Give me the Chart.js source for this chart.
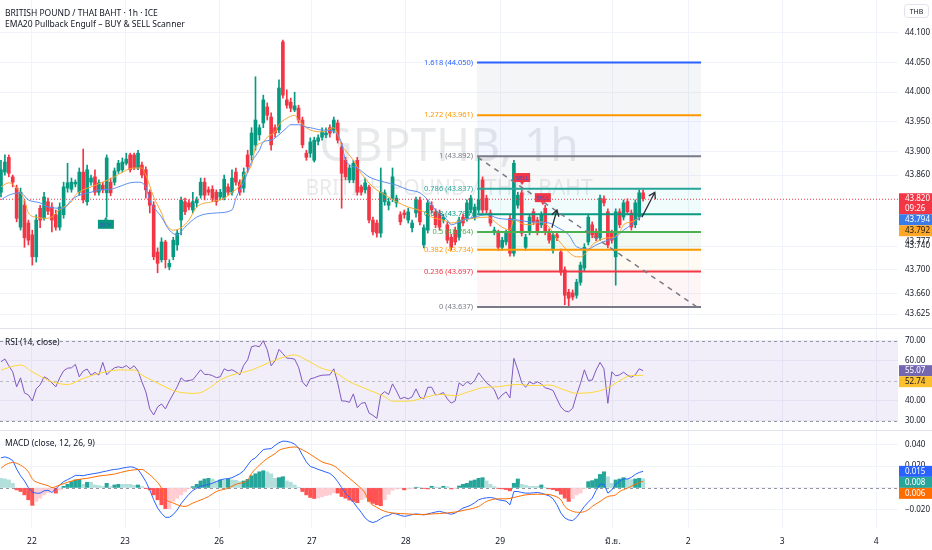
<!DOCTYPE html>
<html>
<head>
<meta charset="utf-8">
<title>GBPTHB 1h</title>
<script src="https://cdn.jsdelivr.net/npm/chart.js@4.4.1/dist/chart.umd.min.js"></script>
<style>
  html,body{margin:0;padding:0;background:#fff;}
  #wrap{position:relative;width:932px;height:550px;overflow:hidden;font-family:"Noto Sans",sans-serif;color:#131722;}
  .pane{position:absolute;left:0;width:932px;}
  .sep{position:absolute;left:0;width:932px;height:1px;background:#e0e3eb;}
  .legend{position:absolute;left:5px;font-size:8.5px;line-height:11px;white-space:nowrap;}
</style>
</head>
<body>
<div id="wrap">
  <div class="pane" style="top:0;height:328px"><canvas id="priceChart"></canvas></div>
  <div class="pane" style="top:328px;height:102px"><canvas id="rsiChart"></canvas></div>
  <div class="pane" style="top:430px;height:120px"><canvas id="macdChart"></canvas></div>
  <div class="sep" style="top:328px"></div>
  <div class="sep" style="top:430px"></div>
  <div class="legend" style="top:7px">BRITISH POUND / THAI BAHT · 1h · ICE</div>
  <div class="legend" style="top:18px">EMA20 Pullback Engulf – BUY &amp; SELL Scanner</div>
  <div class="legend" style="top:336px">RSI (14, close)</div>
  <div class="legend" style="top:437px">MACD (close, 12, 26, 9)</div>
</div>
<script>
/* ── data: hourly candles, index 0 = first bar on screen ── */
var open=[43.831,43.865,43.890,43.857,43.838,43.772,43.809,43.779,43.759,43.722,
43.804,43.787,43.815,43.806,43.793,43.772,43.793,43.838,43.836,43.845,
43.831,43.865,43.815,43.848,43.857,43.831,43.843,43.830,43.848,43.848,
43.867,43.869,43.880,43.894,43.894,43.872,43.877,43.869,43.831,43.809,
43.730,43.717,43.747,43.705,43.722,43.742,43.784,43.815,43.813,43.801,
43.813,43.826,43.848,43.835,43.836,43.831,43.823,43.821,43.840,43.831,
43.865,43.848,43.838,43.894,43.894,43.911,43.928,43.948,43.975,43.958,
43.940,43.936,44.085,43.987,43.983,43.970,43.973,43.953,43.897,43.897,
43.885,43.917,43.924,43.928,43.940,43.936,43.948,43.907,43.885,43.852,
43.852,43.885,43.840,43.835,43.840,43.784,43.779,43.762,43.815,43.809,
43.821,43.813,43.793,43.796,43.784,43.771,43.796,43.818,43.742,43.767,
43.809,43.798,43.796,43.784,43.776,43.755,43.767,43.755,43.789,43.787,
43.801,43.789,43.801,43.852,43.821,43.796,43.764,43.762,43.738,43.747,
43.787,43.728,43.809,43.830,43.738,43.764,43.798,43.784,43.776,43.804,
43.764,43.733,43.759,43.730,43.700,43.662,43.661,43.657,43.679,43.703,
43.747,43.776,43.764,43.754,43.820,43.798,43.762,43.722,43.798,43.789,
43.815,43.796,43.776,43.789,43.830];
var high=[43.885,43.894,43.894,43.860,43.843,43.838,43.818,43.784,43.767,43.793,
43.809,43.831,43.821,43.813,43.801,43.813,43.848,43.880,43.855,43.852,
43.872,43.904,43.877,43.860,43.869,43.852,43.848,43.894,43.855,43.872,
43.885,43.889,43.897,43.897,43.897,43.902,43.882,43.874,43.835,43.815,
43.737,43.754,43.750,43.717,43.755,43.767,43.823,43.821,43.818,43.831,
43.823,43.855,43.855,43.840,43.842,43.835,43.836,43.860,43.845,43.869,
43.872,43.852,43.872,43.902,43.940,44.026,43.945,43.995,43.982,43.965,
43.945,44.021,44.088,44.004,43.990,44.000,43.978,43.958,43.902,43.923,
43.924,43.928,43.940,43.940,43.945,43.958,43.953,43.914,43.890,43.877,
43.885,43.890,43.843,43.855,43.843,43.789,43.784,43.872,43.835,43.821,
43.872,43.826,43.798,43.801,43.804,43.784,43.823,43.823,43.776,43.818,
43.815,43.803,43.801,43.794,43.781,43.760,43.772,43.789,43.794,43.818,
43.826,43.811,43.890,43.857,43.826,43.801,43.772,43.767,43.755,43.767,
43.793,43.885,43.831,43.835,43.760,43.794,43.803,43.789,43.798,43.809,
43.769,43.764,43.764,43.735,43.705,43.667,43.666,43.684,43.713,43.744,
43.794,43.781,43.769,43.826,43.825,43.803,43.767,43.803,43.803,43.818,
43.820,43.801,43.818,43.835,43.835];
var low=[43.823,43.860,43.857,43.840,43.781,43.767,43.738,43.742,43.708,43.713,
43.771,43.784,43.793,43.764,43.767,43.767,43.787,43.831,43.831,43.840,
43.826,43.813,43.809,43.843,43.826,43.826,43.830,43.789,43.825,43.843,
43.863,43.865,43.877,43.865,43.869,43.869,43.855,43.821,43.796,43.717,
43.695,43.713,43.703,43.700,43.717,43.733,43.759,43.793,43.801,43.796,
43.806,43.821,43.818,43.826,43.815,43.809,43.818,43.818,43.826,43.826,
43.843,43.826,43.831,43.865,43.885,43.902,43.919,43.940,43.953,43.902,
43.924,43.931,43.990,43.973,43.967,43.967,43.948,43.906,43.885,43.890,
43.882,43.911,43.919,43.923,43.924,43.931,43.914,43.804,43.852,43.847,
43.847,43.826,43.826,43.830,43.779,43.759,43.755,43.755,43.809,43.801,
43.815,43.806,43.776,43.787,43.779,43.764,43.789,43.776,43.737,43.762,
43.796,43.771,43.767,43.779,43.745,43.733,43.742,43.750,43.774,43.782,
43.796,43.784,43.796,43.796,43.796,43.774,43.759,43.733,43.733,43.742,
43.723,43.723,43.804,43.757,43.733,43.759,43.776,43.759,43.771,43.759,
43.745,43.728,43.749,43.691,43.641,43.636,43.649,43.652,43.674,43.698,
43.742,43.754,43.749,43.749,43.808,43.737,43.745,43.674,43.771,43.784,
43.793,43.767,43.771,43.784,43.816];
var close=[43.869,43.882,43.863,43.848,43.787,43.831,43.754,43.750,43.722,43.784,
43.784,43.823,43.799,43.784,43.772,43.806,43.840,43.847,43.848,43.848,
43.865,43.818,43.869,43.855,43.831,43.847,43.835,43.889,43.830,43.867,
43.880,43.882,43.887,43.869,43.872,43.897,43.860,43.835,43.809,43.722,
43.711,43.747,43.717,43.711,43.750,43.762,43.818,43.798,43.806,43.815,
43.818,43.848,43.826,43.831,43.821,43.815,43.831,43.853,43.831,43.855,
43.848,43.831,43.865,43.874,43.931,43.953,43.940,43.987,43.961,43.911,
43.931,44.007,43.995,43.978,43.973,43.977,43.953,43.911,43.890,43.916,
43.919,43.923,43.933,43.931,43.931,43.953,43.919,43.863,43.857,43.872,
43.880,43.831,43.831,43.847,43.784,43.764,43.762,43.831,43.830,43.815,
43.857,43.821,43.781,43.793,43.798,43.779,43.818,43.781,43.771,43.813,
43.801,43.776,43.772,43.789,43.750,43.738,43.747,43.784,43.779,43.813,
43.821,43.806,43.818,43.801,43.801,43.779,43.767,43.738,43.750,43.762,
43.728,43.880,43.826,43.762,43.755,43.789,43.781,43.764,43.793,43.764,
43.750,43.759,43.754,43.696,43.657,43.652,43.654,43.679,43.708,43.738,
43.789,43.759,43.754,43.821,43.813,43.742,43.750,43.798,43.776,43.813,
43.798,43.772,43.813,43.830,43.820];
var countdown='09:26';
var extraPriceLabel=43.777;

// EMA lines, read at the listed bar indices
var emaSlowIdx=[0,2,5,7,10,12,16,18,20,23,25,28,30,33,35,37,38,41,43,45,47,50,55,59,60,62,64,66,67,69,71,73,74,76,78,79,82,85,87,88,91,94,98,101,104,107,109,111,114,115,118,121,124,127,132,135,140,142,145,147,150,152,155,157,159,161,162,164];
var emaSlow=[43.818,43.826,43.830,43.818,43.813,43.806,43.804,43.818,43.826,43.831,43.835,43.836,43.840,43.847,43.848,43.840,43.818,43.789,43.767,43.759,43.772,43.789,43.796,43.801,43.821,43.848,43.882,43.902,43.916,43.919,43.928,43.940,43.945,43.945,43.941,43.940,43.936,43.934,43.914,43.885,43.872,43.857,43.848,43.843,43.835,43.830,43.818,43.801,43.784,43.776,43.784,43.789,43.793,43.787,43.784,43.781,43.779,43.772,43.759,43.739,43.735,43.742,43.750,43.755,43.767,43.776,43.782,43.794];
var emaFastIdx=[0,2,4,6,7,9,11,13,14,16,18,19,21,23,26,29,31,34,36,37,39,41,42,44,46,48,50,54,57,59,61,62,64,65,67,68,70,71,73,75,76,78,79,82,85,87,90,92,95,99,101,104,108,110,113,115,118,121,124,128,130,131,133,135,138,140,141,143,145,147,148,150,151,153,155,156,158,159,161,162,164];
var emaFast=[43.840,43.847,43.838,43.818,43.796,43.789,43.787,43.789,43.796,43.806,43.815,43.826,43.835,43.840,43.848,43.857,43.865,43.872,43.872,43.860,43.823,43.796,43.779,43.767,43.771,43.784,43.806,43.815,43.821,43.831,43.843,43.860,43.877,43.906,43.916,43.924,43.933,43.945,43.956,43.961,43.953,43.940,43.936,43.933,43.940,43.911,43.885,43.863,43.840,43.823,43.815,43.806,43.798,43.789,43.784,43.779,43.784,43.787,43.789,43.772,43.767,43.785,43.778,43.776,43.781,43.772,43.762,43.745,43.730,43.722,43.722,43.733,43.742,43.750,43.754,43.754,43.764,43.776,43.781,43.784,43.792];

// RSI (one value per bar) and its moving average
var rsi=[59.5,60.9,57.5,54.5,47,51.5,44,43,40,46,
48,52,51,49,47,51.5,55,56.3,56.5,58.2,
52,54.9,55.9,52.8,54.2,52.9,59.2,53,55,56.5,
57,56.5,57.6,56,57.5,55,49.5,44.5,36,33,
37,38.5,36,40,43.5,47,51.5,49.8,50.2,50.5,
53,55.5,53.2,53.2,52.6,51.6,52,56,55,55.5,
54.5,53,57.8,60.5,67,67.5,67,70,65.5,57.5,
60,65.7,63.5,61.3,61.2,60.8,56.8,49.5,47.2,51,
51.5,52.3,52.8,52.9,53,56,49,40,39.9,39.3,
43.5,36.6,38.8,39.2,34,32.8,31.3,43,44.6,43.2,
48.5,45,41,41.8,41,42,46,41.8,41,46.8,
46.8,43,43.3,44.2,41,38.9,40,49,47.5,49.6,
48.3,50.3,54,51.5,49,47.5,45.6,40.8,43,44.5,
41.5,61.2,55.5,49,46.8,49.5,48.5,49.5,48.5,46.5,
46,45.2,41,37,35,34.6,36.3,43,48.7,55.5,
50.2,50.4,55.4,59.2,56,38.8,54.5,52.5,53,54.3,
52.8,51.8,53,56,55.07];
var rsiMaIdx=[0,5,8,13,17,21,25,30,34,36,41,45,50,53,56,59,64,68,72,75,78,82,85,89,93,98,100,104,109,112,116,119,123,127,132,136,140,144,147,152,155,159,161,164];
var rsiMa=[55.4,57.9,54.5,49.6,48.2,51.2,53.7,55.4,55.4,52.9,47.9,44.6,43.8,46.2,50.4,52.9,55.4,58.7,61.7,62.9,60.4,56.2,54.5,49.6,46.2,42.1,39.9,39.9,42.1,43.3,42.6,44.3,46.6,47.1,48.2,47.6,47.9,45.4,43.8,44.6,46.6,51.2,52.6,52.74];

// MACD line and histogram (one value per bar), signal read at listed bars
var macd=[0.0276,0.0285,0.0273,0.0252,0.0173,0.0112,0.0064,0.0003,-0.0039,-0.0048,
-0.0048,-0.0027,-0.0021,-0.0042,-0.0009,0.0027,0.0058,0.0076,0.0094,0.0115,
0.0115,0.0112,0.0121,0.0127,0.0133,0.0139,0.0148,0.0155,0.0164,0.017,
0.0173,0.0182,0.0188,0.0194,0.0188,0.017,0.0118,0.0058,-0.0018,-0.0109,
-0.0185,-0.0233,-0.027,-0.027,-0.0245,-0.0203,-0.0145,-0.01,-0.0058,-0.0024,
-0.0003,0.0015,0.0024,0.0033,0.0042,0.0058,0.0073,0.0082,0.0085,0.0094,
0.0112,0.013,0.0158,0.0209,0.0255,0.0276,0.0315,0.0352,0.0358,0.0361,
0.0391,0.0415,0.043,0.0427,0.0418,0.0403,0.0367,0.03,0.0239,0.0197,
0.0185,0.017,0.0158,0.0145,0.0133,0.0103,0.0058,0.0003,-0.0048,-0.0088,
-0.013,-0.0179,-0.0224,-0.0276,-0.0306,-0.0318,-0.0306,-0.0282,-0.0261,-0.0252,
-0.0233,-0.0239,-0.0252,-0.0261,-0.0255,-0.0245,-0.0239,-0.0242,-0.0248,-0.0239,
-0.023,-0.0221,-0.0215,-0.0224,-0.0233,-0.0242,-0.023,-0.0209,-0.0185,-0.0173,
-0.0158,-0.0136,-0.0109,-0.0097,-0.0091,-0.0088,-0.0094,-0.0109,-0.0115,-0.0121,
-0.0155,-0.0033,-0.0033,-0.0042,-0.0048,-0.0048,-0.0045,-0.0042,-0.0048,-0.0061,
-0.0073,-0.01,-0.0155,-0.023,-0.0276,-0.0294,-0.03,-0.027,-0.0221,-0.017,
-0.013,-0.0094,-0.0024,0.0033,0.0033,-0.0048,-0.0018,0.0033,0.0061,0.0082,
0.0082,0.0097,0.0124,0.0142,0.0152];
var hist=[0.0088,0.0082,0.0073,0.0042,-0.0018,-0.0033,-0.0064,-0.0109,-0.016,-0.0124,
-0.0094,-0.0064,-0.0042,-0.0024,-0.0048,-0.0018,0.0015,0.0033,0.0058,0.0073,
0.0079,0.0033,0.0052,0.0052,0.0027,0.0021,0.0012,0.0042,0.0012,0.0027,
0.0033,0.0033,0.0033,0.0033,0.0024,0.0027,0.0012,-0.0003,-0.0018,-0.0064,
-0.0109,-0.0155,-0.019,-0.019,-0.0124,-0.0094,-0.0064,-0.0033,-0.0003,0.0012,
0.0033,0.0064,0.0082,0.0088,0.0082,0.0064,0.0073,0.007,0.0082,0.0073,
0.007,0.0058,0.0064,0.0079,0.0112,0.013,0.0148,0.0158,0.0148,0.013,
0.0088,0.0094,0.0103,0.0064,0.0052,0.0027,0.0003,-0.0033,-0.0064,-0.0088,
-0.0097,-0.0094,-0.0082,-0.007,-0.0064,-0.0045,-0.0048,-0.0079,-0.0094,-0.0112,
-0.0124,-0.0136,-0.0109,-0.0094,-0.0124,-0.0142,-0.0155,-0.0164,-0.0109,-0.0058,
-0.0021,-0.0009,-0.0003,-0.0018,-0.0009,-0.0003,0.0006,0.0003,-0.0003,-0.0009,
0.0015,0.0009,0.0003,0.0015,0.0012,-0.0009,-0.0003,0.0018,0.0033,0.0042,
0.0064,0.0073,0.0088,0.0094,0.0064,0.0033,0.0012,-0.0003,-0.0009,-0.0015,
-0.0027,0.0042,0.0082,0.0033,0.0024,0.0015,0.0015,0.0015,0.0027,0.0003,
-0.0009,-0.0015,-0.0027,-0.0058,-0.0094,-0.0124,-0.0097,-0.0064,-0.0048,-0.0009,
0.0058,0.0067,0.0082,0.0124,0.0148,0.0103,0.0042,0.0073,0.0082,0.0094,
0.0082,0.0076,0.0082,0.0088,0.0083];
var signalIdx=[0,1,3,5,7,8,10,12,13,15,19,22,25,29,32,36,37,39,41,42,44,47,49,53,55,58,60,63,64,66,68,70,71,73,75,76,78,80,82,85,87,89,91,93,94,96,98,100,104,107,110,114,116,119,122,124,127,129,132,134,137,139,141,143,144,146,148,150,151,153,155,157,158,160,162,164];
var signal=[0.0179,0.0209,0.0233,0.0209,0.0148,0.0082,0.0042,0.0021,0.0003,0.0027,0.0073,0.0088,0.0109,0.0127,0.0155,0.017,0.0148,0.0088,-0.0003,-0.0094,-0.0139,-0.017,-0.0139,-0.0079,-0.0033,-0.0003,0.0033,0.0073,0.0133,0.0209,0.027,0.0315,0.0345,0.0367,0.0376,0.0367,0.033,0.0285,0.0239,0.0203,0.0148,0.0088,0.0027,-0.0048,-0.0124,-0.0179,-0.0215,-0.023,-0.0239,-0.0245,-0.0239,-0.023,-0.0221,-0.02,-0.017,-0.0124,-0.01,-0.01,-0.0079,-0.0064,-0.0058,-0.0058,-0.007,-0.0109,-0.017,-0.0215,-0.0224,-0.02,-0.017,-0.0124,-0.0079,-0.0064,-0.0033,-0.0003,0.0033,0.0062];

// axis ticks
var dayTickIdx=[7.9,31.7,55.7,79.4,103.4,127.5,156.3,175.5,199.5,223.5];
var dayLabels=['22','23','26','27','28','29','มิ.ย.','2','3','4'];
var priceTicks=[44.1,44.05,44.0,43.95,43.9,43.86,43.74,43.7,43.66,43.625];
var rsiTicks=[70,60,40,30];
var macdTicks=[0.04,0.02,0,-0.02];

// drawings: fib retracement, trend line, arrows, scanner labels
var fibRatio=['1.618','1.272','1','0.786','0.618','0.5','0.382','0.236','0'];
var fibPrice=[44.050,43.961,43.892,43.837,43.794,43.764,43.734,43.697,43.637];
var fibSpan=[121.6,178.8];
var trendIdx=[121.8,177.8], trendPrice=[43.890,43.637];
var arrowFromIdx=[140.7,163.7], arrowFromPrice=[43.771,43.789];
var arrowToIdx=[142.0,167.0], arrowToPrice=[43.801,43.831];
var sellIdx=[133.1,138.4], sellPrice=[43.855,43.821];
var buyIdx=[26.8], buyPrice=[43.776];
var watermark=['GBPTHB, 1h','BRITISH POUND / THAI BAHT'];

/* ── styles ── */
var X_MIN=-0.25, X_MAX=229.1, AXIS_W=34;
var FONT='"Noto Sans", sans-serif';
var UP='#089981', DOWN='#f23645', GRID='#f0f3fa', TXT='#131722';
var fibColor=['#2962ff','#ff9800','#787b86','#26a69a','#089981','#4caf50','#ff9800','#f23645','#787b86'];
var fibFill=['rgba(120,123,134,0.08)','rgba(41,98,255,0.05)','rgba(120,123,134,0.05)','rgba(0,188,212,0.06)','rgba(8,153,129,0.02)','rgba(76,175,80,0.07)','rgba(255,152,0,0.05)','rgba(242,54,69,0.05)'];

function pts(idx,vals){return vals.map(function(v,k){return {x:idx[k],y:v};});}
function seq(vals){return vals.map(function(v,i){return {x:i,y:v};});}
function last(a){return a[a.length-1];}

function xAxis(showLabels){
  return {type:'linear',min:X_MIN,max:X_MAX,offset:false,
    grid:{color:GRID,offset:false,drawTicks:false},
    border:{display:false},
    afterBuildTicks:function(s){s.ticks=dayTickIdx.map(function(v){return {value:v};});},
    ticks:{display:showLabels,autoSkip:false,maxRotation:0,padding:8,color:TXT,font:{size:8.5,family:FONT},
      callback:function(v,i){return dayLabels[i];}},
    afterFit:function(s){s.height=showLabels?22:0;s.paddingLeft=0;s.paddingRight=0;}
  };
}
function yAxis(min,max,ticks,fmt){
  return {position:'right',min:min,max:max,
    grid:{color:GRID,drawTicks:false},
    border:{display:false},
    afterBuildTicks:function(s){s.ticks=ticks.map(function(v){return {value:v};});},
    ticks:{autoSkip:false,padding:7,color:TXT,font:{size:8,family:FONT},callback:function(v){return fmt(v);}},
    afterFit:function(s){s.width=AXIS_W;s.paddingTop=0;s.paddingBottom=0;}
  };
}
function baseOptions(scales){
  return {responsive:true,maintainAspectRatio:false,animation:false,events:[],
    layout:{padding:0},
    plugins:{legend:{display:false},tooltip:{enabled:false}},
    scales:scales};
}
function lineSet(data,color,smooth){
  return {type:'line',data:data,borderColor:color,borderWidth:1,pointRadius:0,
    cubicInterpolationMode:smooth?'monotone':'default',tension:0,order:0};
}

// value tags on the right axis, stacked so they never overlap
function drawTags(chart,tags){
  var ctx=chart.ctx, ys=chart.scales.y, x0=chart.chartArea.right+1, w=chart.width-x0;
  var prev=-1e9;
  ctx.save();
  ctx.font='8px '+FONT; ctx.textAlign='left'; ctx.textBaseline='middle';
  tags.forEach(function(t){
    var y=ys.getPixelForValue(t.value);
    var h=t.lines.length*10+1;
    var top=Math.max(y-5.5,prev);
    if(t.bg){ctx.fillStyle=t.bg;ctx.fillRect(x0,top,w,h);}
    ctx.fillStyle=t.fg;
    t.lines.forEach(function(s,k){ctx.fillText(s,x0+6,top+5.5+k*10);});
    prev=top+h;
  });
  ctx.restore();
}
function arrow(ctx,x1,y1,x2,y2){
  var ang=Math.atan2(y2-y1,x2-x1), L=7;
  ctx.beginPath();
  ctx.moveTo(x1,y1); ctx.lineTo(x2,y2);
  ctx.moveTo(x2-L*Math.cos(ang-0.55),y2-L*Math.sin(ang-0.55));
  ctx.lineTo(x2,y2);
  ctx.lineTo(x2-L*Math.cos(ang+0.55),y2-L*Math.sin(ang+0.55));
  ctx.stroke();
}
function signalBox(ctx,x,y,text,bg,pointDown){
  ctx.fillStyle=bg;
  ctx.fillRect(x-8,y-5,16,9);
  ctx.beginPath();
  if(pointDown){ctx.moveTo(x-2,y+4);ctx.lineTo(x+2,y+4);ctx.lineTo(x,y+7);}
  else{ctx.moveTo(x-2,y-5);ctx.lineTo(x+2,y-5);ctx.lineTo(x,y-8);}
  ctx.fill();
  ctx.fillStyle='#3d52c8'; ctx.font='6px '+FONT;
  ctx.textAlign='center'; ctx.textBaseline='middle';
  ctx.fillText(text,x,y);
}

/* ── price pane ── */
var priceDeco={
  id:'priceDeco',
  beforeDatasetsDraw:function(chart){
    var ctx=chart.ctx, a=chart.chartArea, xs=chart.scales.x, ys=chart.scales.y;
    ctx.save();
    ctx.fillStyle='rgba(120,123,134,0.17)';
    ctx.textAlign='center'; ctx.textBaseline='middle';
    ctx.font='46px '+FONT;
    ctx.fillText(watermark[0],(a.left+a.right)/2,148);
    ctx.font='21px '+FONT;
    ctx.fillText(watermark[1],(a.left+a.right)/2,189);
    var x0=xs.getPixelForValue(fibSpan[0]), x1=xs.getPixelForValue(fibSpan[1]);
    for(var k=0;k<fibPrice.length-1;k++){
      var yA=ys.getPixelForValue(fibPrice[k]), yB=ys.getPixelForValue(fibPrice[k+1]);
      ctx.fillStyle=fibFill[k];
      ctx.fillRect(x0,yA,x1-x0,yB-yA);
    }
    ctx.restore();
  },
  afterDatasetsDraw:function(chart){
    var ctx=chart.ctx, a=chart.chartArea, xs=chart.scales.x, ys=chart.scales.y;
    ctx.save();
    var x0=xs.getPixelForValue(fibSpan[0]), x1=xs.getPixelForValue(fibSpan[1]);
    ctx.font='7.5px '+FONT; ctx.textAlign='right'; ctx.textBaseline='middle';
    fibPrice.forEach(function(p,k){
      var y=ys.getPixelForValue(p);
      ctx.strokeStyle=fibColor[k]; ctx.lineWidth=2;
      ctx.beginPath(); ctx.moveTo(x0,y); ctx.lineTo(x1,y); ctx.stroke();
      ctx.fillStyle=fibColor[k];
      ctx.fillText(fibRatio[k]+' ('+p.toFixed(3)+')',x0-4,y);
    });
    // dashed trend line
    ctx.strokeStyle='#787b86'; ctx.lineWidth=1.5; ctx.setLineDash([5,5]);
    ctx.beginPath();
    ctx.moveTo(xs.getPixelForValue(trendIdx[0]),ys.getPixelForValue(trendPrice[0]));
    ctx.lineTo(xs.getPixelForValue(trendIdx[1]),ys.getPixelForValue(trendPrice[1]));
    ctx.stroke();
    ctx.setLineDash([]);
    // arrows
    ctx.strokeStyle='#2a2e39'; ctx.lineWidth=1.3;
    arrowFromIdx.forEach(function(v,k){
      arrow(ctx,xs.getPixelForValue(v),ys.getPixelForValue(arrowFromPrice[k]),
        xs.getPixelForValue(arrowToIdx[k]),ys.getPixelForValue(arrowToPrice[k]));
    });
    // scanner labels
    sellIdx.forEach(function(v,k){signalBox(ctx,xs.getPixelForValue(v),ys.getPixelForValue(sellPrice[k]),'SELL','#f23645',true);});
    buyIdx.forEach(function(v,k){signalBox(ctx,xs.getPixelForValue(v),ys.getPixelForValue(buyPrice[k]),'BUY','#089981',false);});
    // last price line
    var yp=ys.getPixelForValue(last(close));
    ctx.strokeStyle='#f23645'; ctx.lineWidth=1; ctx.setLineDash([1,2]);
    ctx.beginPath(); ctx.moveTo(a.left,yp+0.5); ctx.lineTo(a.right,yp+0.5); ctx.stroke();
    ctx.restore();
  },
  afterDraw:function(chart){
    drawTags(chart,[
      {value:last(close),lines:[last(close).toFixed(3),countdown],bg:last(close)>=last(open)?UP:DOWN,fg:'#fff'},
      {value:last(emaSlow),lines:[last(emaSlow).toFixed(3)],bg:'#3a7bea',fg:'#fff'},
      {value:last(emaFast),lines:[last(emaFast).toFixed(3)],bg:'#ffa726',fg:TXT},
      {value:extraPriceLabel,lines:[extraPriceLabel.toFixed(3)],bg:null,fg:TXT}
    ]);
    var ctx=chart.ctx;
    ctx.save();
    ctx.fillStyle='#fff'; ctx.strokeStyle='#e0e3eb'; ctx.lineWidth=1;
    ctx.beginPath(); ctx.roundRect(904.5,4.5,24,13,3); ctx.fill(); ctx.stroke();
    ctx.fillStyle=TXT; ctx.font='7px '+FONT; ctx.textAlign='center'; ctx.textBaseline='middle';
    ctx.fillText('THB',916.5,11.5);
    ctx.restore();
  }
};
var candleCol=close.map(function(c,i){return c>=open[i]?UP:DOWN;});
new Chart(document.getElementById('priceChart'),{
  type:'bar',
  data:{datasets:[
    lineSet(pts(emaSlowIdx,emaSlow),'#5b8def',true),
    lineSet(pts(emaFastIdx,emaFast),'#f7a530',true),
    {type:'bar',data:close.map(function(c,i){return {x:i,y:[low[i],high[i]]};}),backgroundColor:candleCol,
      barThickness:1,grouped:false,borderWidth:0,order:2},
    {type:'bar',data:close.map(function(c,i){return {x:i,y:[open[i],c]};}),backgroundColor:candleCol,
      barThickness:3,grouped:false,borderWidth:0,minBarLength:1,order:1}
  ]},
  options:baseOptions({
    x:xAxis(false),
    y:yAxis(43.6017,44.1557,priceTicks,function(v){return v.toFixed(3);})
  }),
  plugins:[priceDeco]
});

/* ── RSI pane ── */
var rsiDeco={
  id:'rsiDeco',
  beforeDatasetsDraw:function(chart){
    var ctx=chart.ctx, a=chart.chartArea, ys=chart.scales.y;
    var y70=ys.getPixelForValue(70), y50=ys.getPixelForValue(50), y30=ys.getPixelForValue(30);
    ctx.save();
    ctx.fillStyle='rgba(126,87,194,0.1)';
    ctx.fillRect(a.left,y70,a.right-a.left,y30-y70);
    ctx.strokeStyle='#9598a1'; ctx.lineWidth=1; ctx.setLineDash([3,3]);
    [y70,y30].forEach(function(y){ctx.beginPath();ctx.moveTo(a.left,Math.round(y)+0.5);ctx.lineTo(a.right,Math.round(y)+0.5);ctx.stroke();});
    ctx.strokeStyle='rgba(149,152,161,0.6)';
    ctx.beginPath();ctx.moveTo(a.left,Math.round(y50)+0.5);ctx.lineTo(a.right,Math.round(y50)+0.5);ctx.stroke();
    ctx.restore();
  },
  afterDraw:function(chart){
    drawTags(chart,[
      {value:last(rsi),lines:[last(rsi).toFixed(2)],bg:'#7467b0',fg:'#fff'},
      {value:last(rsiMa),lines:[last(rsiMa).toFixed(2)],bg:'#fbc02d',fg:TXT}
    ]);
  }
};
new Chart(document.getElementById('rsiChart'),{
  type:'line',
  data:{datasets:[
    lineSet(pts(rsiMaIdx,rsiMa),'#fdd835',true),
    lineSet(seq(rsi),'#7e57c2',false)
  ]},
  options:baseOptions({
    x:xAxis(false),
    y:yAxis(25.51,76.33,rsiTicks,function(v){return v.toFixed(2);})
  }),
  plugins:[rsiDeco]
});

/* ── MACD pane ── */
var histCol=hist.map(function(h,i){
  var p=i>0?hist[i-1]:h;
  if(h>=0)return h>p?'#26a69a':'#b2dfdb';
  return h<p?'#ff5252':'#ffcdd2';
});
var macdDeco={
  id:'macdDeco',
  beforeDatasetsDraw:function(chart){
    var ctx=chart.ctx, a=chart.chartArea, y0=Math.round(chart.scales.y.getPixelForValue(0))+0.5;
    ctx.save();
    ctx.strokeStyle='#9598a1'; ctx.lineWidth=1; ctx.setLineDash([3,3]);
    ctx.beginPath(); ctx.moveTo(a.left,y0); ctx.lineTo(a.right,y0); ctx.stroke();
    ctx.restore();
  },
  afterDraw:function(chart){
    drawTags(chart,[
      {value:last(macd),lines:[last(macd).toFixed(3)],bg:'#2962ff',fg:'#fff'},
      {value:last(hist),lines:[last(hist).toFixed(3)],bg:'#26a69a',fg:'#fff'},
      {value:last(signal),lines:[last(signal).toFixed(3)],bg:'#ff6d00',fg:'#fff'}
    ]);
  }
};
new Chart(document.getElementById('macdChart'),{
  type:'bar',
  data:{datasets:[
    lineSet(pts(signalIdx,signal),'#ff6d00',true),
    lineSet(seq(macd),'#2962ff',false),
    {type:'bar',data:seq(hist),backgroundColor:histCol,barThickness:3.4,grouped:false,borderWidth:0,order:1}
  ]},
  options:baseOptions({
    x:xAxis(true),
    y:yAxis(-0.0368,0.05318,macdTicks,function(v){return v<0?'\u2212'+Math.abs(v).toFixed(3):v.toFixed(3);})
  }),
  plugins:[macdDeco]
});
</script>
</body>
</html>
